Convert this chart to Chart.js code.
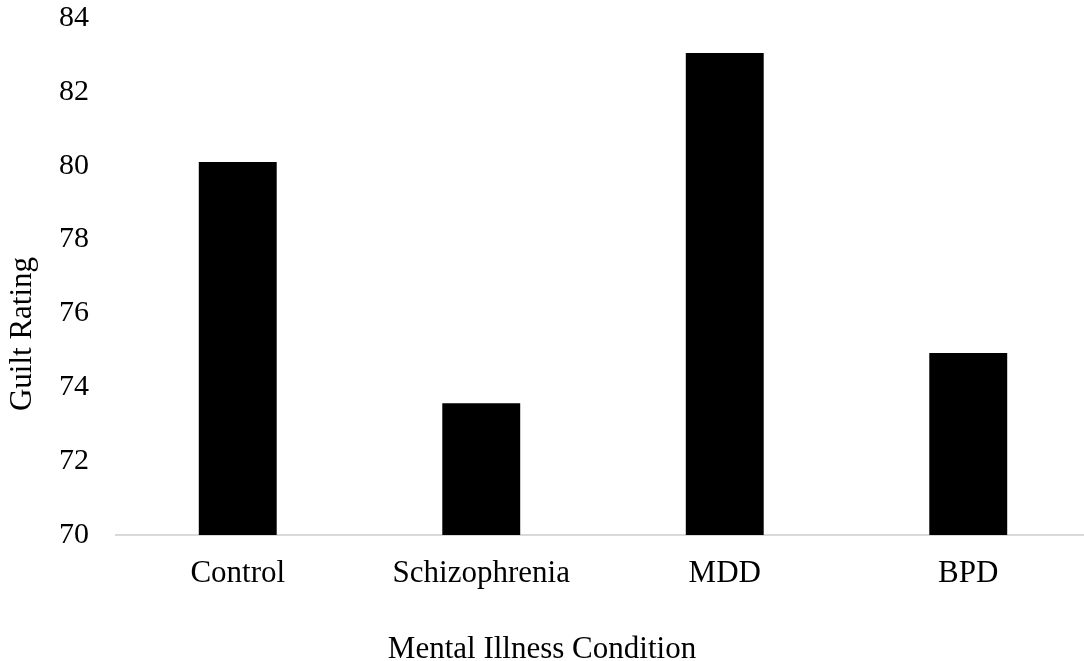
<!DOCTYPE html>
<html>
<head>
<meta charset="utf-8">
<script src="https://cdn.jsdelivr.net/npm/chart.js@4"></script>
<style>
  html, body { margin: 0; padding: 0; background: #fff; overflow: hidden; }
  #wrap { width: 1090px; height: 661px; }
</style>
</head>
<body>
<div id="wrap"><canvas id="guiltChart"></canvas></div>
<script>
// chart data
const conditions = ["Control", "Schizophrenia", "MDD", "BPD"];
const guiltRatings = [80.1, 73.57, 83.05, 74.93];
const yTicks = [70, 72, 74, 76, 78, 80, 82, 84];

const xTitle = "Mental Illness Condition";
const yTitle = "Guilt Rating";

const fontFamily = "'Liberation Serif', 'Times New Roman', serif";

// draw axis titles where the original has them
const axisTitles = {
  id: "axisTitles",
  afterDraw(chart) {
    const ctx = chart.ctx;
    ctx.save();
    ctx.fillStyle = "#000";
    ctx.font = "31px " + fontFamily;
    ctx.textAlign = "center";
    ctx.textBaseline = "middle";
    ctx.fillText(xTitle, 542, 650);
    ctx.translate(23, 334);
    ctx.rotate(-Math.PI / 2);
    ctx.fillText(yTitle, 0, 0);
    ctx.restore();
  }
};

const ctx = document.getElementById("guiltChart").getContext("2d");

new Chart(ctx, {
  type: "bar",
  data: {
    labels: conditions,
    datasets: [{
      label: yTitle,
      data: guiltRatings,
      backgroundColor: "#000",
      borderWidth: 0,
      barPercentage: 0.32,
      categoryPercentage: 1
    }]
  },
  options: {
    responsive: true,
    maintainAspectRatio: false,
    animation: false,
    layout: {
      padding: { top: 18, right: 0, bottom: 0, left: 0 }
    },
    plugins: {
      legend: { display: false },
      tooltip: { enabled: false }
    },
    scales: {
      x: {
        grid: { display: false, drawTicks: false },
        border: { display: true, color: "#d9d9d9", width: 2 },
        ticks: {
          color: "#000",
          font: { family: fontFamily, size: 31 },
          padding: 20,
          maxRotation: 0
        },
        afterFit: scale => {
          scale.height = 126;
          scale.paddingLeft = 0;
          scale.paddingRight = 0;
        }
      },
      y: {
        min: 70,
        max: 84,
        afterBuildTicks: scale => {
          scale.ticks = yTicks.map(v => ({ value: v }));
        },
        grid: { display: false, drawTicks: false },
        border: { display: false },
        ticks: {
          color: "#000",
          font: { family: fontFamily, size: 30 },
          padding: 27
        },
        afterFit: scale => {
          scale.width = 116;
          scale.paddingTop = 0;
          scale.paddingBottom = 0;
        }
      }
    }
  },
  plugins: [axisTitles]
});
</script>
</body>
</html>
